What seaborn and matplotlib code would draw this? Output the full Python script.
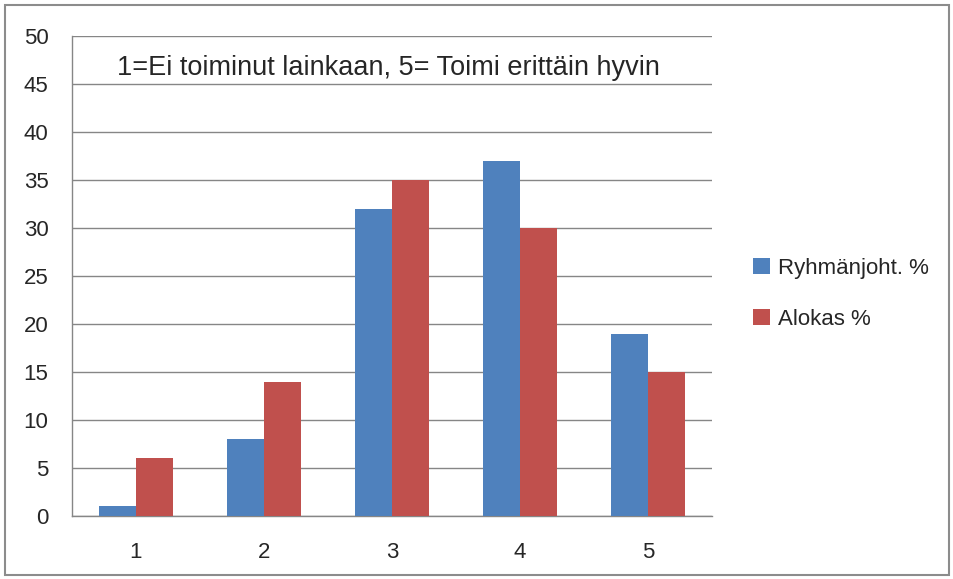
import matplotlib
matplotlib.use("Agg")
import matplotlib.pyplot as plt
import pandas as pd
import seaborn as sns
from matplotlib.patches import Rectangle

# data
categories = ["1", "2", "3", "4", "5"]
ryhmanjoht = [1, 8, 32, 37, 19]
alokas = [6, 14, 35, 30, 15]
series_names = ["Ryhmänjoht. %", "Alokas %"]

df = pd.DataFrame({
    "cat": categories * 2,
    "value": ryhmanjoht + alokas,
    "series": [series_names[0]] * 5 + [series_names[1]] * 5,
})

sns.set_style("white")
plt.rcParams["font.family"] = ["Liberation Sans", "DejaVu Sans"]

fig = plt.figure(figsize=(9.54, 5.79), dpi=100)
ax = fig.add_axes([72 / 954, 63 / 579, 640 / 954, 480 / 579])

grid_col = "#868686"
sns.barplot(data=df, x="cat", y="value", hue="series", palette=["#4F81BD", "#C0504D"],
            saturation=1, width=0.58, gap=0, linewidth=0, ax=ax, zorder=3)

ax.set_ylim(0, 50)
ax.set_xlim(-0.5, 4.5)
ax.set_yticks(range(0, 51, 5))
ax.yaxis.grid(True, color=grid_col, linewidth=1)
ax.set_axisbelow(True)
ax.set_xlabel("")
ax.set_ylabel("")
ax.set_xticks(range(5))
ax.set_xticklabels(categories)
ax.set_xticks([x - 0.5 for x in range(6)], minor=True)
ax.tick_params(axis="x", which="major", length=0, pad=19, labelsize=16)
ax.tick_params(axis="x", which="minor", length=9, width=1, color=grid_col, direction="out")
ax.tick_params(axis="y", length=9, width=1, color=grid_col, direction="out", pad=8, labelsize=16)
for s in ["top", "right"]:
    ax.spines[s].set_visible(False)
for s in ["left", "bottom"]:
    ax.spines[s].set_color(grid_col)
    ax.spines[s].set_linewidth(1)

ax.text(0.494, 0.933, "1=Ei toiminut lainkaan, 5= Toimi erittäin hyvin",
        transform=ax.transAxes, ha="center", va="center", fontsize=19.5)

leg = ax.legend(loc="center left", bbox_to_anchor=(1.033, 0.4625), frameon=False,
                fontsize=16, handlelength=0.75, handleheight=0.75, handletextpad=0.35,
                labelspacing=1.35)

fig.patches.append(Rectangle((5 / 954, 4 / 579), 944 / 954, 570 / 579, transform=fig.transFigure,
                             fill=False, edgecolor="#8c8c8c", linewidth=1.5))

fig.savefig("out.png", dpi=100)
